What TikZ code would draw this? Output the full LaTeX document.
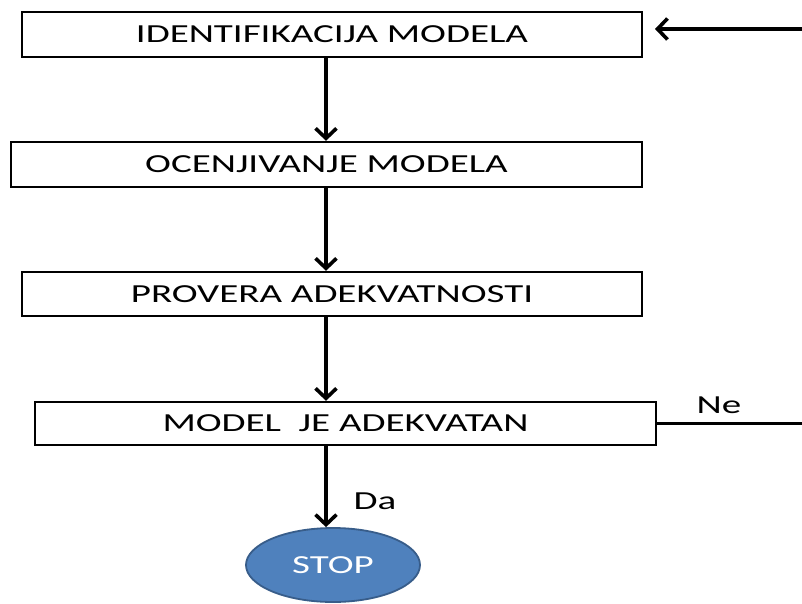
\documentclass[tikz,border=0pt]{standalone}
\usepackage{fontspec}
\setmainfont[FakeStretch=1.5]{Carlito}
\usetikzlibrary{shapes.geometric,arrows.meta}
\definecolor{stopfill}{HTML}{4F81BD}
\definecolor{stopline}{HTML}{385D8A}
\begin{document}
\begin{tikzpicture}[x=1pt,y=-1pt,
		txt/.style={font=\fontsize{26}{30}\selectfont},
		stepbox/.style={txt,draw,line width=2.4pt,fill=white,inner sep=0pt,minimum height=45pt},
		arrow/.style={line width=3.6pt,-{Straight Barb[length=10pt,width=21pt]}}]
		\useasboundingbox (0,0) rectangle (802,604);
		
		\node[stepbox,minimum width=620pt] (ident) at (332,34.5) {IDENTIFIKACIJA MODELA};
		\node[stepbox,minimum width=631pt] (ocena) at (326.5,164.5) {OCENJIVANJE MODELA};
		\node[stepbox,minimum width=620pt,minimum height=44pt] (provera) at (332,294) {PROVERA ADEKVATNOSTI};
		\node[stepbox,minimum width=621pt,minimum height=43pt] (adekvat) at (345.5,423.5) {MODEL\ \ JE ADEKVATAN};
		\node[ellipse,txt,draw=stopline,line width=1.8pt,fill=stopfill,text=white,inner sep=0pt,minimum width=174pt,minimum height=74pt] (stop) at (333,565) {STOP};
		
		\coordinate (spine) at (326,0);
		\coordinate (neEnd) at (802,423.5);
		\coordinate (backStart) at (802,29);
		\coordinate (backTip) at (655,29);
		
		\draw[arrow] (ident.south -| spine) -- (ocena.north -| spine);
		\draw[arrow] (ocena.south -| spine) -- (provera.north -| spine);
		\draw[arrow] (provera.south -| spine) -- (adekvat.north -| spine);
		\draw[arrow] (adekvat.south -| spine) -- (stop.north -| spine);
		\draw[line width=2.6pt] (adekvat.east) -- (neEnd);
		\draw[arrow] (backStart) -- (backTip);
		
		\node[txt] (ne) at (719,405) {Ne};
		\node[txt] (da) at (375,501) {Da};
	\end{tikzpicture}
\end{document}
